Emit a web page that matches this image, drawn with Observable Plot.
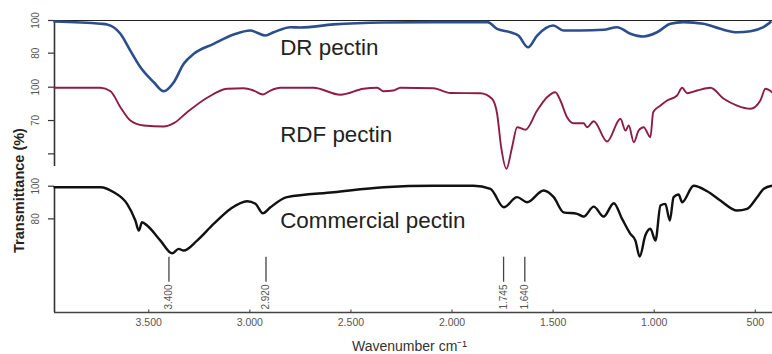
<!DOCTYPE html>
<html><head><meta charset="utf-8">
<script src="https://cdn.jsdelivr.net/npm/d3@7"></script>
<script src="https://cdn.jsdelivr.net/npm/@observablehq/plot@0.6"></script>
<style>body{margin:0;background:#fff} svg{display:block}</style>
</head><body><div id="chart"></div>
<script>
// ---- data ----
const drWn = [3966,3739,3706,3640,3591,3541,3475,3426,3376,3327,3277,3179,3080,2997,2967,2923,2882,2799,2750,2587,2339,2092,1825,1777,1711,1672,1624,1579,1499,1449,1365,1251,1184,1118,1053,986,920,856,757,673,590,524,460,425];
const drT  = [99.4,98.0,97.6,91.9,81.6,71.4,62.2,56.7,62.2,73.5,79.6,85.7,91.4,93.9,92.7,90.8,92.8,95.9,95.7,97.6,98.8,99.0,99.0,94.9,92.8,90.8,83.6,90.8,96.9,93.9,93.9,94.3,95.9,91.9,90.2,92.8,98.0,99.0,98.0,94.9,92.8,93.4,95.9,99.0];

const rdfWn = [3966,3739,3689,3640,3591,3525,3426,3376,3310,3211,3112,3030,2981,2935,2898,2849,2685,2552,2438,2370,2339,2290,2255,2092,2008,1860,1802,1777,1757,1731,1703,1678,1637,1579,1530,1489,1464,1431,1398,1349,1332,1299,1233,1167,1142,1126,1101,1077,1052,1019,1005,969,936,887,862,837,788,722,656,590,524,475,450,417];
const rdfT  = [99.5,99.5,96.4,82.0,70.0,65.5,64.6,67.6,77.5,90.5,98.6,99.1,97.0,93.4,97.0,99.5,99.5,93.2,98.6,99.5,96.4,97.0,99.5,99.1,94.8,94.6,89.6,76.1,46.0,26.6,46.0,64.0,61.7,79.0,91.0,95.5,88.0,73.0,67.6,67.6,64.0,69.4,51.1,71.6,61.0,65.5,50.5,61.0,64.0,55.0,77.5,83.5,88.0,92.5,99.5,94.6,97.0,99.5,89.6,83.5,80.6,88.0,98.6,95.5];

const comWn = [3966,3739,3673,3607,3566,3549,3533,3508,3442,3384,3352,3327,3261,3179,3096,3013,2972,2936,2898,2816,2585,2338,2091,1894,1810,1744,1678,1629,1547,1497,1448,1381,1349,1299,1250,1200,1159,1118,1093,1072,1044,1019,994,969,945,923,904,879,862,805,738,673,590,541,491,458,417];
const comT  = [99.4,99.4,96.3,89.2,79.0,72.8,77.9,75.9,66.7,58.9,61.6,60.6,66.7,76.9,86.1,90.8,89.2,83.4,87.1,93.3,96.3,99.4,100.3,100.3,98.4,87.1,93.3,90.2,97.4,93.3,84.0,83.1,81.4,87.5,81.4,89.6,80.0,70.8,66.7,56.9,69.8,73.9,66.7,88.2,89.2,79.0,93.3,94.9,90.2,100.3,96.9,91.2,85.1,86.1,93.3,98.4,100.3];

const seriesNames = ["DR pectin", "RDF pectin", "Commercial pectin"];
const xTicks = [3500, 3000, 2500, 2000, 1500, 1000, 500];
const peakMarks = [3400, 2920, 1745, 1640];
const yTickValues = { "DR pectin": [100, 80], "RDF pectin": [100, 70, 40], "Commercial pectin": [100, 80] };
const yTickLabelled = { "DR pectin": [100, 80], "RDF pectin": [100, 70], "Commercial pectin": [100, 80] };
const axisTitleX = "Wavenumber cm⁻¹";
const axisTitleY = "Transmittance (%)";

// ---- layout / style (not data) ----
const xDomain = [3966, 415];
const layout = {
  "DR pectin":         { top: 292,   k: 1.633, color: "#2b4f8c", sw: 2.6, labelV: 264.5 },
  "RDF pectin":        { top: 225.3, k: 1.111, color: "#8e1d45", sw: 1.9, labelV: 178 },
  "Commercial pectin": { top: 126.3, k: 1.633, color: "#111111", sw: 2.4, labelV: 91.7 }
};
const labelWn = 2850;
const yTitleV = 122;
const pos = (name, t) => layout[name].top - (100 - t) * layout[name].k;

const raw = { "DR pectin": [drWn, drT], "RDF pectin": [rdfWn, rdfT], "Commercial pectin": [comWn, comT] };
const rows = {};
for (const n of seriesNames) {
  const [w, t] = raw[n];
  rows[n] = w.map((wn, i) => ({ wn, t: t[i], v: pos(n, t[i]) }));
}
const yTicks = seriesNames.flatMap(n => yTickValues[n].map(t => ({ n, t, v: pos(n, t) })));
const yLabels = seriesNames.flatMap(n => yTickLabelled[n].map(t => ({ n, t, v: pos(n, t) })));
const axisSegs = [
  { y1: pos("RDF pectin", 28.6), y2: pos("DR pectin", 100) },
  { y1: 0, y2: pos("Commercial pectin", 98.8) }
];

const loc = d3.formatLocale({ decimal: ",", thousands: ".", grouping: [3], currency: ["", ""] });
const fmt = loc.format(",");

const font = "'Liberation Sans', Arial, sans-serif";

const plot = Plot.plot({
  width: 772, height: 354,
  marginLeft: 54, marginRight: 0, marginTop: 20, marginBottom: 42,
  style: { fontFamily: font, background: "#fff" },
  x: { domain: xDomain, axis: null },
  y: { domain: [0, 292], axis: null },
  marks: [
    Plot.ruleY([pos("DR pectin", 100)], { stroke: "#222", strokeWidth: 1 }),
    Plot.ruleY([0], { stroke: "#444", strokeWidth: 1.6 }),
    Plot.ruleX(axisSegs, { x: xDomain[0], y1: "y1", y2: "y2", stroke: "#333", strokeWidth: 1.6 }),
    Plot.ruleX(xTicks, { x: d => d, y1: 0, y2: 2.5, stroke: "#555", strokeWidth: 1.2 }),
    Plot.text(xTicks, { x: d => d, y: 0, dy: 10, text: d => fmt(d), fontSize: 10.5, fill: "#555", lineAnchor: "middle" }),
    Plot.axisY({ ticks: yTicks.map(d => d.v), tickSize: 6, tickFormat: () => "", stroke: "#333", strokeWidth: 1.2, label: null }),
    Plot.text(yLabels, { y: "v", frameAnchor: "left", dx: -19, rotate: -90, text: d => String(d.t), fontSize: 10, fill: "#555", textAnchor: "middle", lineAnchor: "middle" }),
    Plot.ruleX(peakMarks, { x: d => d, y1: 30.3, y2: 55.3, stroke: "#444", strokeWidth: 1.3 }),
    Plot.text(peakMarks, { x: d => d, y: 28, text: d => fmt(d), rotate: -90, textAnchor: "end", lineAnchor: "middle", fontSize: 10, fill: "#555" }),
    ...seriesNames.map(n => Plot.line(rows[n], { x: "wn", y: "v", stroke: layout[n].color, strokeWidth: layout[n].sw, curve: "monotone-x", strokeLinejoin: "round" })),
    Plot.text(seriesNames, { x: labelWn, y: n => layout[n].labelV, text: d => d, textAnchor: "start", lineAnchor: "middle", fontSize: 22.4, fill: "#222" }),
    Plot.text([axisTitleX], { frameAnchor: "bottom", dx: -4, dy: 34, text: d => d, fontSize: 14, fill: "#333", lineAnchor: "middle" }),
    Plot.text([axisTitleY], { y: yTitleV, frameAnchor: "left", dx: -35, rotate: -90, text: d => d, fontSize: 14.5, fontWeight: "bold", fill: "#222", textAnchor: "middle", lineAnchor: "middle" })
  ]
});
document.getElementById("chart").append(plot);
</script></body></html>
